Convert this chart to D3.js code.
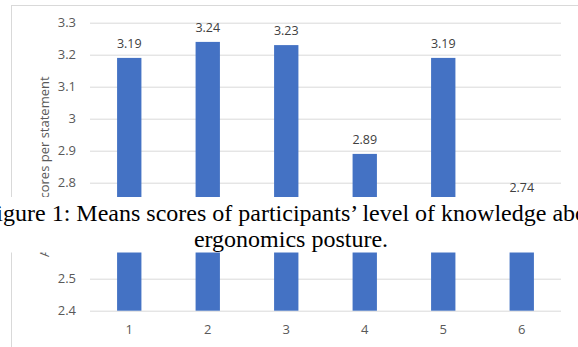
<!DOCTYPE html>
<html>
<head>
<meta charset="utf-8">
<script src="https://cdn.jsdelivr.net/npm/d3@7"></script>
<style>
  html, body { margin: 0; padding: 0; background: #fff; }
  svg { display: block; }
</style>
</head>
<body>
<svg id="chart" width="578" height="347"></svg>
<script>
// Statements and their mean scores
const statements = ["1", "2", "3", "4", "5", "6"];
const meanScores = [3.19, 3.24, 3.23, 2.89, 3.19, 2.74];
const yTickValues = [2.4, 2.5, 2.6, 2.7, 2.8, 2.9, 3.0, 3.1, 3.2, 3.3];
const yTitle = "Average scores per statement";
const captionLines = [
  "Figure 1: Means scores of participants\u2019 level of knowledge about",
  "ergonomics posture."
];

const svg = d3.select("#chart");
const W = 578, H = 347;
const plot = { left: 90, right: 561, top: 22.7, bottom: 310.7 };

const labelFont = "'Open Sans', 'Liberation Sans', sans-serif";
const captionFont = "'Liberation Serif', 'Times New Roman', serif";

// Chart frame
svg.append("rect")
  .attr("x", 11.5).attr("y", 5.5)
  .attr("width", 640).attr("height", 400)
  .attr("fill", "#fff")
  .attr("stroke", "#d9d9d9").attr("stroke-width", 1);

const y = d3.scaleLinear().domain([2.4, 3.3]).range([plot.bottom, plot.top]);
const x = d3.scaleBand()
  .domain(statements)
  .range([plot.left, plot.right])
  .paddingInner(0.69)
  .paddingOuter(0.345);

// Horizontal gridlines and y tick labels via axis
const yAxis = d3.axisLeft(y)
  .tickValues(yTickValues)
  .tickSize(-(plot.right - plot.left))
  .tickPadding(14)
  .tickFormat(d => String(+d.toFixed(1)));

const gy = svg.append("g")
  .attr("transform", `translate(${plot.left},0)`)
  .call(yAxis);
gy.select(".domain").remove();
gy.selectAll(".tick line").attr("stroke", "#d9d9d9").attr("stroke-width", 1);
gy.selectAll(".tick text")
  .attr("fill", "#595959")
  .attr("font-family", labelFont)
  .attr("font-size", 13);

// Bars
svg.append("g").selectAll("rect")
  .data(meanScores)
  .join("rect")
  .attr("x", (d, i) => x(statements[i]))
  .attr("width", x.bandwidth())
  .attr("y", d => y(d))
  .attr("height", d => y(2.4) - y(d))
  .attr("fill", "#4472c4");

// Value labels
svg.append("g").selectAll("text")
  .data(meanScores)
  .join("text")
  .attr("x", (d, i) => x(statements[i]) + x.bandwidth() / 2)
  .attr("y", d => y(d) - 10)
  .attr("text-anchor", "middle")
  .attr("fill", "#404040")
  .attr("font-family", labelFont)
  .attr("font-size", 12.5)
  .text(d => d.toFixed(2));

// X axis category labels
const xAxis = d3.axisBottom(x).tickSize(0).tickPadding(14);
const gx = svg.append("g")
  .attr("transform", `translate(0,${plot.bottom})`)
  .call(xAxis);
gx.select(".domain").remove();
gx.selectAll(".tick text")
  .attr("fill", "#595959")
  .attr("font-family", labelFont)
  .attr("font-size", 13);

// Y axis title
svg.append("text")
  .attr("transform", `translate(49,${(plot.top + plot.bottom) / 2}) rotate(-90)`)
  .attr("text-anchor", "middle")
  .attr("fill", "#595959")
  .attr("font-family", labelFont)
  .attr("font-size", 13)
  .text(yTitle);

// Caption band laid across the chart
svg.append("rect")
  .attr("x", 0).attr("y", 197)
  .attr("width", W).attr("height", 55.5)
  .attr("fill", "#fff");

const caption = svg.append("g")
  .attr("font-family", captionFont)
  .attr("font-size", 24)
  .attr("fill", "#000");

caption.append("text")
  .attr("x", -17)
  .attr("y", 221)
  .text(captionLines[0]);

caption.append("text")
  .attr("x", 291)
  .attr("y", 247)
  .attr("text-anchor", "middle")
  .text(captionLines[1]);
</script>
</body>
</html>
